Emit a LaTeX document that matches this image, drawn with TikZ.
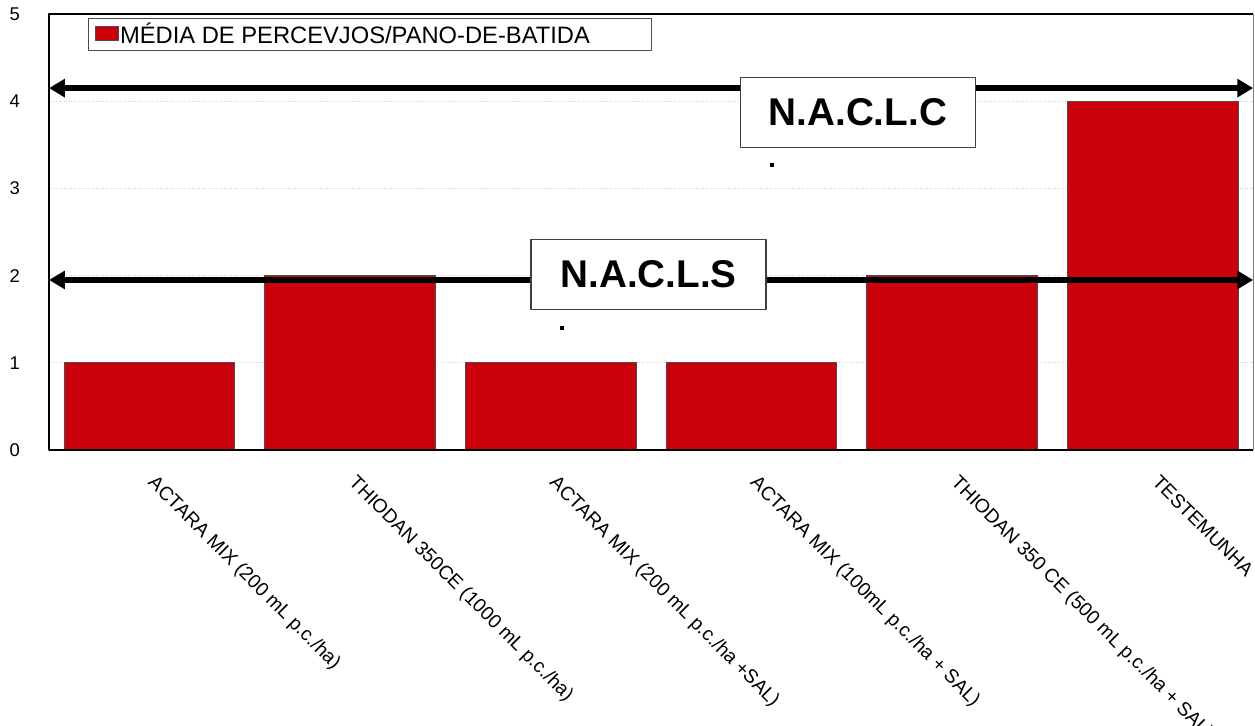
\documentclass[tikz,border=0pt]{standalone}
\usepackage{fontspec}
\setmainfont{Liberation Sans}
\usetikzlibrary{arrows.meta}
\definecolor{barred}{RGB}{204,0,10}
\tikzset{
  barbox/.style={fill=barred, draw=black!70, line width=0.6pt},
  levelbox/.style={draw=black!75, fill=white, line width=0.8pt, minimum width=4.7cm, minimum height=1.4cm, font=\fontsize{22}{26}\selectfont\bfseries},
  levelline/.style={<->, line width=3.4pt},
  catlabel/.style={rotate=-45, anchor=north west, inner sep=0pt, font=\fontsize{11}{13}\selectfont}
}
\begin{document}
\begin{tikzpicture}[x=4.014cm, y=1.744cm, font=\fontsize{10.5}{12}\selectfont, line join=round, >={Triangle[length=9pt,width=10pt]}]
	\useasboundingbox (-0.98cm,-5.52cm) rectangle (24.12cm,9.0cm);
	\def\xmax{6}\def\ymax{5}
	\foreach \y in {1,...,4}\draw[gray!35, densely dotted] (0,\y)--(\xmax,\y);
	\foreach \v [count=\i from 0] in {1,2,1,1,2,4}\draw[barbox] (\i+0.075,0) rectangle (\i+0.925,\v);
	\draw[black!50] (\xmax,0)--(\xmax,\ymax);
	\draw[line width=0.8pt] (\xmax,\ymax)--(0,\ymax)--(0,0)--(\xmax,0);
	\foreach \y in {0,...,5}\node (tick\y) at (-0.17,\y) {\y};
	% categorias
	\foreach \t [count=\i from 0] in {ACTARA MIX (200 mL p.c./ha),THIODAN 350CE (1000 mL p.c./ha),ACTARA MIX (200 mL p.c./ha +SAL),ACTARA MIX (100mL p.c./ha + SAL),THIODAN 350 CE (500 mL p.c./ha + SAL),TESTEMUNHA}
		\node[catlabel] (cat\i) at (\i+0.54,-0.27) {\t};
	% legenda
	\node[draw=black!70, fill=white, anchor=north west, minimum width=11.26cm, minimum height=0.64cm, inner sep=0pt] (leg) at (0.194,4.954) {};
	\draw[fill=barred, draw=black!70] (0.229,4.862) rectangle (0.344,4.702);
	\node[anchor=west, inner sep=1pt, font=\fontsize{13.5}{16}\selectfont] (legtext) at (0.344,4.78) {MÉDIA DE PERCEVJOS/PANO-DE-BATIDA};
	% niveis
	\coordinate (cl) at (0,4.15);
	\coordinate (cr) at (\xmax,4.15);
	\coordinate (sl) at (0,1.95);
	\coordinate (sr) at (\xmax,1.95);
	\draw[levelline] (cl)--(cr);
	\draw[levelline] (sl)--(sr);
	\node[levelbox] (naclc) at (4.03,3.87) {N.A.C.L.C};
	\node[levelbox] (nacls) at (2.987,2.013) {N.A.C.L.S};
	\node[fill, inner sep=0pt, minimum size=0.08cm] (dotc) at (3.602,3.268) {};
	\node[fill, inner sep=0pt, minimum size=0.08cm] (dots) at (2.556,1.399) {};
\end{tikzpicture}
\end{document}
